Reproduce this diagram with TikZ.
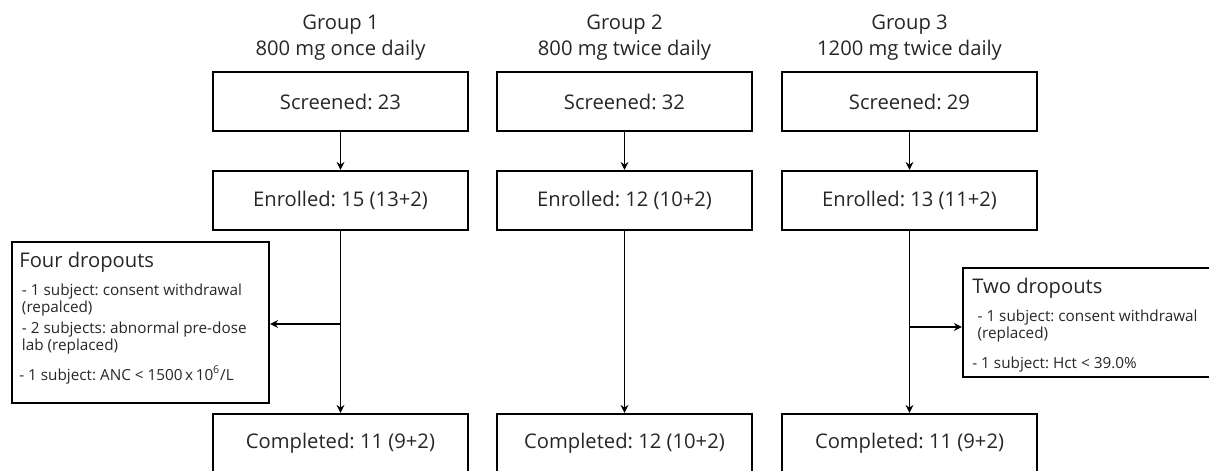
\documentclass[tikz,border=0pt]{standalone}
\usepackage{fontspec}
\setmainfont{Open Sans}
\usetikzlibrary{arrows.meta}
\newcommand{\boxfont}{\fontsize{11.5}{14.7}\selectfont\frenchspacing}
\newcommand{\notefont}{\fontsize{8.7}{9.6}\selectfont}

\begin{document}
\begin{tikzpicture}[x=0.02cm,y=-0.02cm,
    box/.style={inner sep=0mm,minimum height=1.18cm,minimum width=5.1cm,draw,line width=1.3pt},
    head/.style={align=center,inner sep=0mm},
    note/.style={inner sep=0mm,draw,line width=1.3pt},
    notetext/.style={anchor=north west,inner sep=0mm,text width=5cm,align=flush left},
    edge/.style={-{Stealth[length=4.5pt,width=4.5pt]},line width=1pt},
    font=\boxfont,text=black!85
  ]
  \useasboundingbox (0,0) rectangle (1209,470);
  \clip (0,0) rectangle (1209,470);

  %headers
  \node[head] (head1) at (340.5,38) {Group 1\\800 mg once daily};
  \node[head] (head2) at (624.5,38) {Group 2\\800 mg twice daily};
  \node[head] (head3) at (909.5,38) {Group 3\\1200 mg twice daily};

  %group 1
  \node[box] (screen1) at (340.5,101.5) {Screened: 23};
  \node[box] (enrol1) at (340.5,200.5) {Enrolled: 15 (13+2)};
  \node[box] (done1) at (340.5,443.5) {Completed: 11 (9+2)};

  %group 2
  \node[box] (screen2) at (624.5,101.5) {Screened: 32};
  \node[box] (enrol2) at (624.5,200.5) {Enrolled: 12 (10+2)};
  \node[box] (done2) at (624.5,443.5) {Completed: 12 (10+2)};

  %group 3
  \node[box] (screen3) at (909.5,101.5) {Screened: 29};
  \node[box] (enrol3) at (909.5,200.5) {Enrolled: 13 (11+2)};
  \node[box] (done3) at (909.5,443.5) {Completed: 11 (9+2)};

  %dropouts
  \node[note,minimum width=5.14cm,minimum height=3.22cm] (drop1) at (140.5,322.5) {};
  \node[notetext] (drop1text) at (19,252) {Four dropouts\par\vspace{6.3pt}
    \notefont\leftskip=1.5pt
    - 1 subject: consent withdrawal\\(repalced)\par\vspace{2.3pt}
    - 2 subjects: abnormal pre-dose\\lab (replaced)\par\vspace{2.3pt}
    - 1 subject: ANC < 1500\,x\,10\textsuperscript{6}/L};

  \node[note,minimum width=5.2cm,minimum height=2.18cm] (drop3) at (1093,322.5) {};
  \node[notetext] (drop3text) at (972,278) {Two dropouts\par\vspace{6.3pt}
    \notefont\leftskip=3pt
    - 1 subject: consent withdrawal\\(replaced)\par\vspace{2.3pt}
    - 1 subject: Hct < 39.0\%};

  %flow
  \draw[edge] (screen1) -- (enrol1);
  \draw[edge] (screen2) -- (enrol2);
  \draw[edge] (screen3) -- (enrol3);
  \draw[edge] (enrol1) -- (done1);
  \draw[edge] (enrol2) -- (done2);
  \draw[edge] (enrol3) -- (done3);

  %side exits
  \coordinate (split1) at (340.5,324);
  \coordinate (split3) at (909.5,327);
  \draw[edge] (split1) -- (split1 -| drop1.east);
  \draw[edge] (split3) -- (split3 -| drop3.west);
\end{tikzpicture}
\end{document}
